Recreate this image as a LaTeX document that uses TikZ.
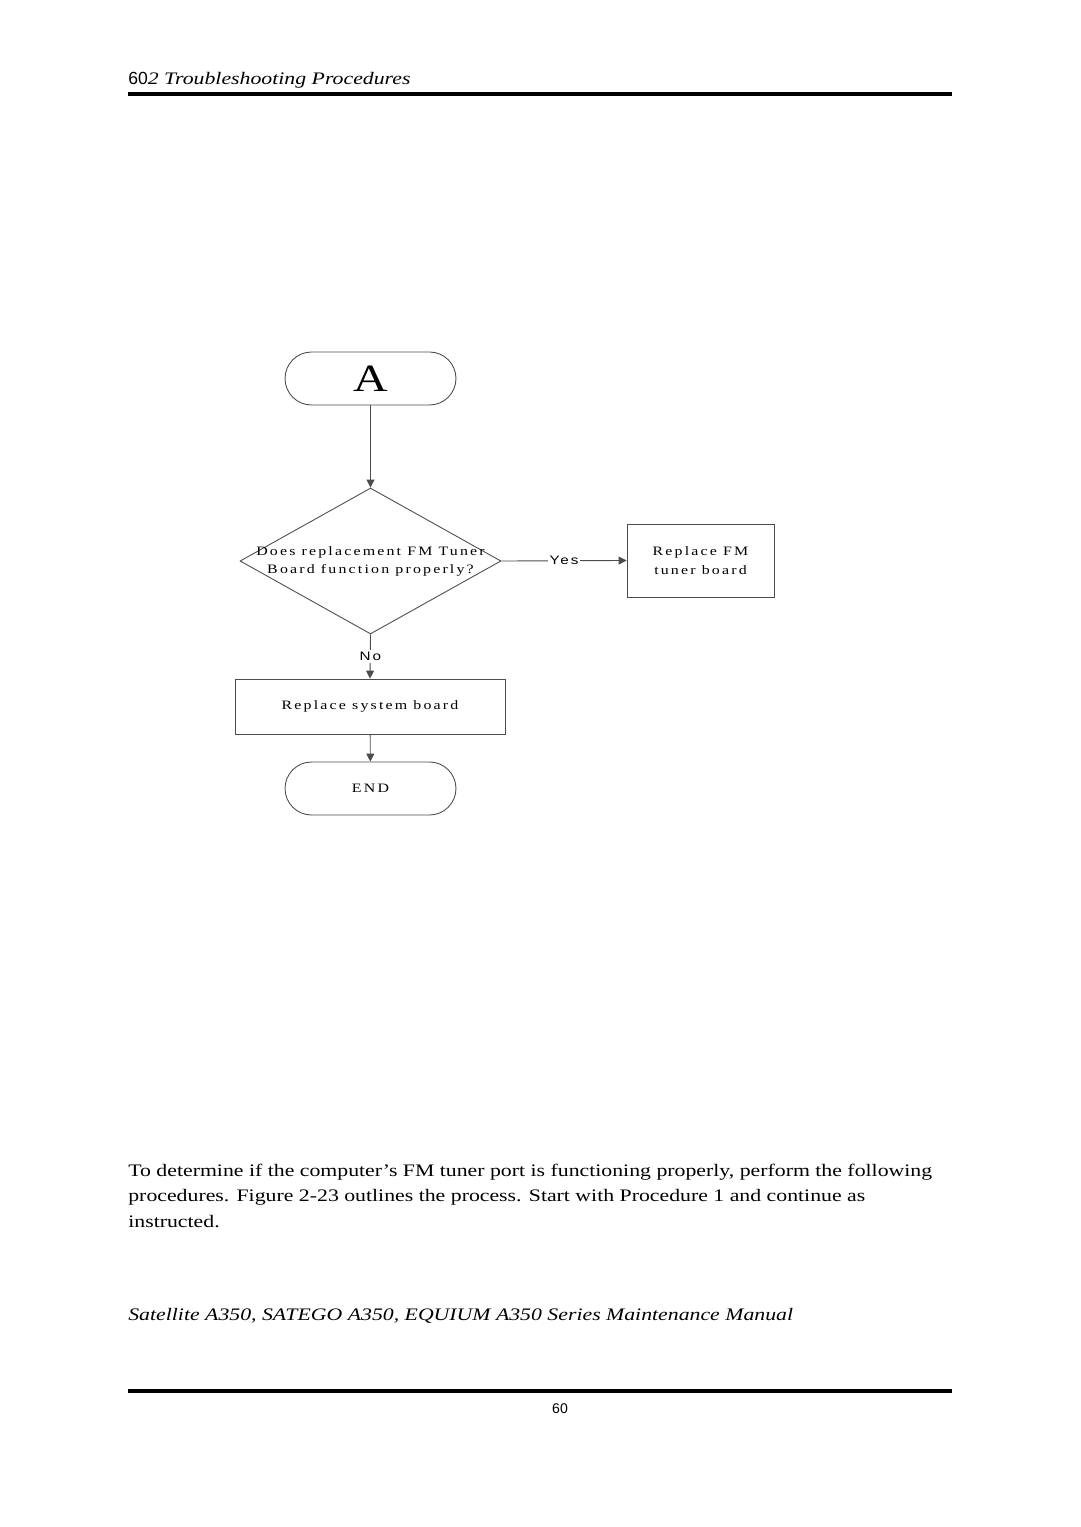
\documentclass[tikz,border=0pt]{standalone}
\usepackage{fontspec}
\setmainfont[FakeStretch=1.24]{Liberation Serif}
\setsansfont{Liberation Sans}
\newfontfamily\chartfont[FakeStretch=1.24,LetterSpace=17]{Liberation Serif}
\newfontfamily\chartsans[FakeStretch=1.24,LetterSpace=16]{Liberation Sans}
\usetikzlibrary{shapes.geometric,arrows.meta}

\begin{document}
\begin{tikzpicture}[x=0.02cm,y=-0.02cm,
  line/.style={draw=black!70,line width=0.5pt},
  arr/.style={line,-{Triangle[length=4.5pt,width=4.5pt]}},
  term/.style={line,rounded corners=0.53cm,minimum width=3.42cm,minimum height=1.06cm,inner sep=0pt},
  stepbox/.style={line,inner sep=0pt,align=center,font=\fontsize{7.3}{10.6}\selectfont\chartfont},
  tag/.style={fill=white,inner sep=1pt,font=\fontsize{7}{9}\selectfont\chartsans},
  rule/.style={line width=2.3pt}]

\useasboundingbox (0,0) rectangle (1080,1527);

% page head
\node[anchor=base west,inner sep=0pt] (head) at (128,85) {{\sffamily 60}\textit{2 Troubleshooting Procedures}};
\coordinate (hl) at (128,94);
\coordinate (hr) at (952,94);
\draw[rule] (hl) -- (hr);

% chart
\node[term,font=\fontsize{22}{24}\selectfont] (a) at (370.5,378.5) {A};

\node[line,diamond,minimum width=5.22cm,minimum height=2.92cm,inner sep=0pt] (q) at (370.5,561) {};
\node[align=center,inner sep=0pt,font=\fontsize{7.3}{10.2}\selectfont\chartfont] (qtext) at (370.5,561) {Does replacement FM Tuner\\Board function properly?};

\node[stepbox,minimum width=2.94cm,minimum height=1.46cm] (fm) at (700.5,560.5) {Replace FM\\tuner board};

\node[stepbox,minimum width=5.4cm,minimum height=1.1cm] (sys) at (370,706.5) {Replace system board};

\node[term,font=\fontsize{7.3}{9}\selectfont\chartfont] (end) at (370.5,788.5) {END};

\draw[arr] (a) -- (q);
\draw[arr] (q.east) -- node[tag] (yes) {Yes} (fm.west);
\draw[arr] (q.south) -- node[tag] (no) {No} (sys.north);
\draw[arr] (sys) -- (end);

% text under the chart
\node[anchor=base west,inner sep=0pt] (p1) at (128,1176) {To determine if the computer’s FM tuner port is functioning properly, perform the following};
\node[anchor=base west,inner sep=0pt] (p2) at (128,1201) {procedures. Figure 2-23 outlines the process. Start with Procedure 1 and continue as};
\node[anchor=base west,inner sep=0pt] (p3) at (128,1227) {instructed.};

% page foot
\node[anchor=base west,inner sep=0pt] (foot) at (128,1320) {\textit{Satellite A350, SATEGO A350, EQUIUM A350 Series Maintenance Manual}};
\coordinate (fl) at (128,1391);
\coordinate (fr) at (952,1391);
\draw[rule] (fl) -- (fr);
\node[anchor=base,inner sep=0pt,font=\sffamily\fontsize{8}{9}\selectfont] (page) at (560,1413) {60};

\end{tikzpicture}
\end{document}
